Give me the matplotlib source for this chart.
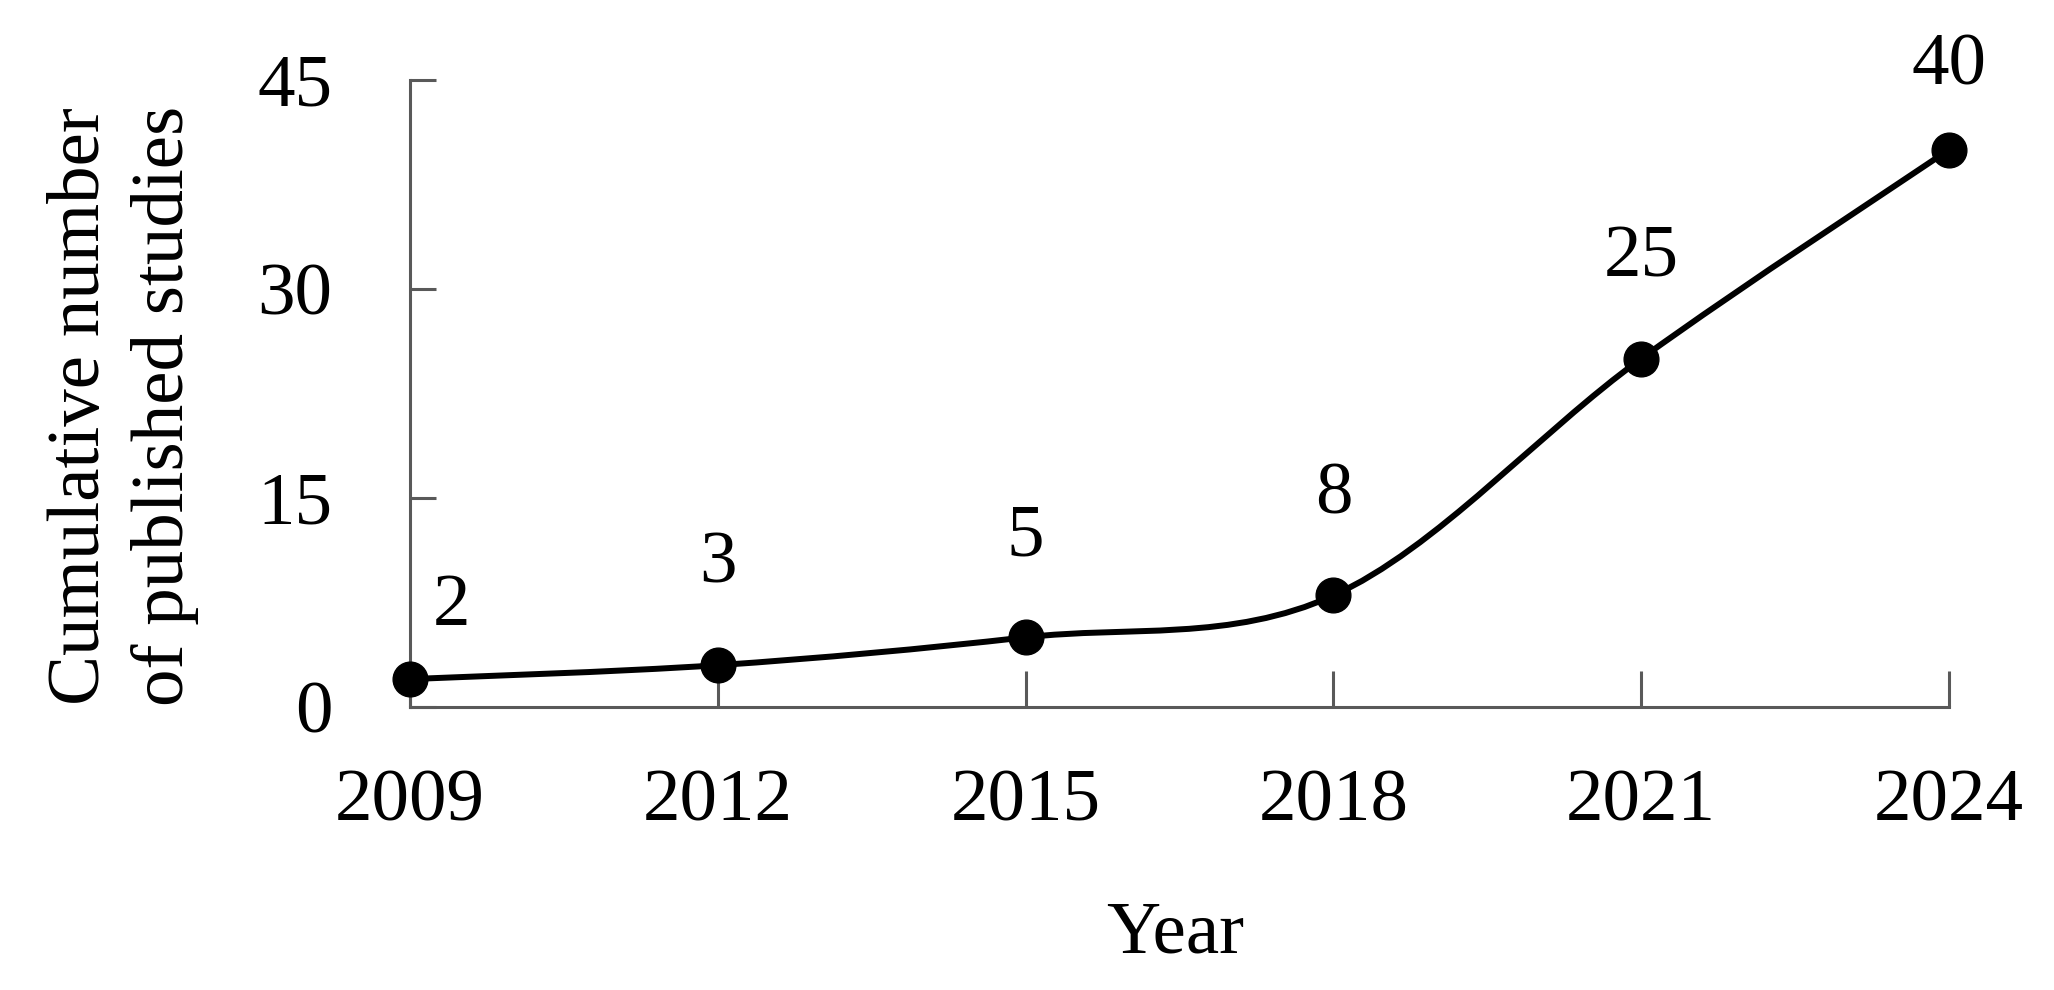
import matplotlib
matplotlib.use("Agg")
import matplotlib.pyplot as plt
from matplotlib.path import Path
from matplotlib.patches import PathPatch

years = [2009, 2012, 2015, 2018, 2021, 2024]
studies = [2, 3, 5, 8, 25, 40]
y_ticks = [0, 15, 30, 45]

plt.rcParams["font.family"] = ["Liberation Serif", "DejaVu Serif"]

AXIS_GREY = "#595959"
FS = 54


def smooth_path(xs, ys):
    # Excel-style smoothed line: cubic Bezier, control points from neighbours
    pts = list(zip(xs, ys))
    verts = [pts[0]]
    codes = [Path.MOVETO]
    n = len(pts)
    for i in range(n - 1):
        p0 = pts[max(i - 1, 0)]
        p1 = pts[i]
        p2 = pts[i + 1]
        p3 = pts[min(i + 2, n - 1)]
        c1 = (p1[0] + (p2[0] - p0[0]) / 6, p1[1] + (p2[1] - p0[1]) / 6)
        c2 = (p2[0] - (p3[0] - p1[0]) / 6, p2[1] - (p3[1] - p1[1]) / 6)
        verts += [c1, c2, p2]
        codes += [Path.CURVE4] * 3
    return Path(verts, codes)


fig = plt.figure(figsize=(20.54, 9.9), dpi=100)
ax = fig.add_axes([0.1996, 0.2859, 0.7493, 0.6333])

ax.add_patch(PathPatch(smooth_path(years, studies), facecolor="none",
                       edgecolor="black", linewidth=4.3, clip_on=False, zorder=3))
ax.plot(years, studies, linestyle="none", marker="o", markersize=25,
        color="black", clip_on=False, zorder=4)

# value labels above the points
for i, (x, y) in enumerate(zip(years, studies)):
    dx, dy = 0, 72
    if i == 0:
        dx, dy = 30, 52
    if i == len(years) - 1:
        dy = 60
    ax.annotate(str(y), (x, y), xytext=(dx, dy), textcoords="offset points",
                ha="center", va="center", fontsize=FS)

ax.set_xlim(years[0], years[-1])
ax.set_ylim(y_ticks[0], y_ticks[-1])
ax.set_xticks(years)
ax.set_yticks(y_ticks)

for side in ["top", "right"]:
    ax.spines[side].set_visible(False)
for side in ["left", "bottom"]:
    ax.spines[side].set_color(AXIS_GREY)
    ax.spines[side].set_linewidth(2.2)

ax.tick_params(axis="x", direction="in", length=26, width=2.2,
               color=AXIS_GREY, pad=45, labelsize=FS)
ax.tick_params(axis="y", direction="in", length=19, width=2.2,
               color=AXIS_GREY, pad=56, labelsize=FS)

fig.text(123 / 2054, 1 - 406 / 990, "Cumulative number\nof published studies",
         rotation=90, ha="center", va="center", fontsize=FS, linespacing=1.3)
fig.text(1175 / 2054, 1 - 935 / 990, "Year", ha="center", va="center",
         fontsize=FS)

fig.savefig("out.png", dpi=100, facecolor="white")
